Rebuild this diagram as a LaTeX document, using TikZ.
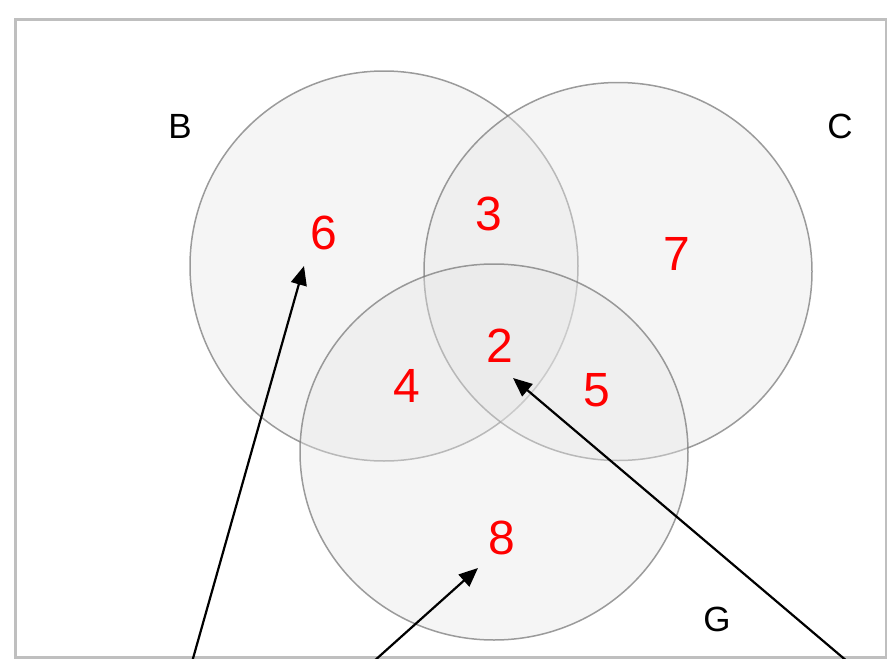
\documentclass[tikz,border=0pt]{standalone}
\usepackage{fontspec}
\setmainfont{Liberation Sans}
\usetikzlibrary{arrows.meta}
\definecolor{setfill}{RGB}{230,230,230}
\begin{document}
\begin{tikzpicture}[x=1pt,y=-1pt,
  setshape/.style={draw=black!55,draw opacity=0.7,line width=1.5pt,fill=setfill,fill opacity=0.4},
  setlabel/.style={font=\fontsize{35}{42}\selectfont,text=black,inner sep=0pt},
  countlabel/.style={font=\fontsize{48}{57}\selectfont,text=red,inner sep=0pt},
  pointer/.style={draw=black,line width=2.2pt,-{Triangle[length=19pt,width=16pt]}}]
\useasboundingbox (0,0) rectangle (887,659);
\node[draw=black!25,line width=2.5pt,minimum width=871pt,minimum height=638pt,inner sep=0pt,anchor=north west] (frame) at (14,18) {};
\path[setshape] (384,266) ellipse [x radius=194,y radius=195];
\path[setshape] (618,271.5) ellipse [x radius=194,y radius=189];
\path[setshape] (494,452) ellipse [x radius=194,y radius=188];
\node[setlabel] (labB) at (180,126) {B};
\node[setlabel] (labC) at (840,126) {C};
\node[setlabel] (labG) at (717,619) {G};
\node[countlabel] (n6) at (324,233) {6};
\node[countlabel] (n3) at (489,214) {3};
\node[countlabel] (n7) at (677,254) {7};
\node[countlabel] (n4) at (407,386) {4};
\node[countlabel] (n2) at (500,346) {2};
\node[countlabel] (n5) at (597,390) {5};
\node[countlabel] (n8) at (502,538) {8};
\coordinate (s1) at (192,662);
\coordinate (s2) at (373,662);
\coordinate (s3) at (848,662);
\coordinate (t6) at (304,266);
\coordinate (t8) at (478,568);
\coordinate (t2) at (513,378);
\draw[pointer] (s1) -- (t6);
\draw[pointer] (s2) -- (t8);
\draw[pointer] (s3) -- (t2);
\end{tikzpicture}
\end{document}
